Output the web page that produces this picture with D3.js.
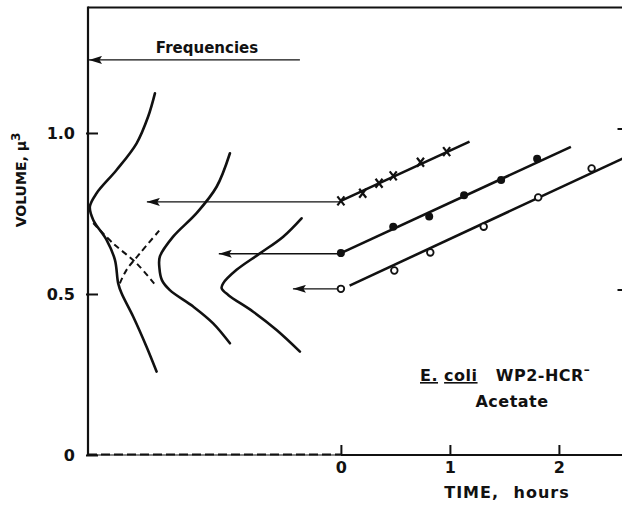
<!DOCTYPE html>
<html>
<head>
<meta charset="utf-8">
<script src="https://cdn.jsdelivr.net/npm/d3@7"></script>
<style>
  body { margin: 0; background: #fff; }
  svg { display: block; }
  text { font-family: "DejaVu Sans", sans-serif; font-weight: bold; fill: #111; }
</style>
</head>
<body>
<div id="container"></div>
<script>
// ---------------- data (time in hours, volume in cubic microns) ----------------
const timeTicks = [0, 1, 2];
const volumeTicks = [0, 0.5, 1.0];

// crosses
const crossTime = [0, 0.2, 0.35, 0.48, 0.73, 0.97];
const crossVol = [0.789, 0.813, 0.844, 0.867, 0.909, 0.942];
// filled dots
const dotTime = [0, 0.48, 0.81, 1.13, 1.47, 1.80];
const dotVol = [0.627, 0.709, 0.741, 0.807, 0.854, 0.920];
// open circles
const openTime = [0, 0.49, 0.82, 1.31, 1.81, 2.30];
const openVol = [0.516, 0.573, 0.629, 0.709, 0.800, 0.890];

// fitted lines [start, end]
const crossFit = [[0, 0.789], [1.18, 0.973]];
const dotFit = [[0, 0.627], [2.11, 0.957]];
const openFit = [[0.08, 0.526], [2.62, 0.926]];

// arrows from the t=0 volume back to the frequency curves
const arrowVol = [0.786, 0.625, 0.516];
const arrowTip = [-1.78, -1.12, -0.44];
const freqArrow = { vol: 1.227, from: -0.376, to: -2.32 };

// frequency curves drawn in the same frame (x in time-axis units)
const freqCurve1 = [[-1.706, 1.123], [-1.768, 1.051], [-1.874, 0.968], [-2.058, 0.885],
  [-2.241, 0.813], [-2.303, 0.771], [-2.272, 0.730], [-2.150, 0.668], [-2.073, 0.606],
  [-2.043, 0.533], [-2.012, 0.502], [-1.906, 0.430], [-1.783, 0.336], [-1.691, 0.259]];
const freqDash1 = [[-2.272, 0.720], [-2.089, 0.657], [-1.874, 0.595], [-1.691, 0.523]];
const freqDash2 = [[-2.028, 0.533], [-1.966, 0.575], [-1.844, 0.626], [-1.661, 0.699]];
const freqCurve2 = [[-1.018, 0.937], [-1.140, 0.833], [-1.324, 0.751], [-1.539, 0.678],
  [-1.661, 0.616], [-1.665, 0.581], [-1.642, 0.543], [-1.569, 0.512], [-1.355, 0.461],
  [-1.172, 0.409], [-1.018, 0.347]];
const freqCurve3 = [[-0.361, 0.735], [-0.529, 0.678], [-0.743, 0.626], [-0.957, 0.575],
  [-1.080, 0.533], [-1.094, 0.518], [-1.034, 0.497], [-0.805, 0.445], [-0.590, 0.388],
  [-0.376, 0.321]];

// ---------------- svg ----------------
const width = 622;
const height = 505;

const svg = d3.select('div#container').append('svg')
  .attr('width', width)
  .attr('height', height);

const x = d3.scaleLinear().domain([-2.32, 2.62]).range([88, 626.5]);
const y = d3.scaleLinear().domain([0, 1.39]).range([455, 7.4]);

// arrow head, tip at the end of the line
svg.append('defs').append('marker')
  .attr('id', 'head')
  .attr('viewBox', '0 0 13 8')
  .attr('refX', 13).attr('refY', 4)
  .attr('markerWidth', 13).attr('markerHeight', 8)
  .attr('markerUnits', 'userSpaceOnUse')
  .attr('orient', 'auto')
  .append('path')
  .attr('d', 'M13,4 L0,0 L2.5,4 L0,8 Z')
  .attr('fill', '#111');

// frame: top and left borders
svg.append('line')
  .attr('x1', x(-2.32)).attr('x2', x(2.62))
  .attr('y1', y(1.39)).attr('y2', y(1.39))
  .attr('stroke', '#111').attr('stroke-width', 2);
svg.append('line')
  .attr('x1', x(-2.32)).attr('x2', x(-2.32))
  .attr('y1', y(1.39) - 1).attr('y2', y(0) + 1)
  .attr('stroke', '#111').attr('stroke-width', 2.2);
svg.append('line')
  .attr('x1', x(2.62)).attr('x2', x(2.62))
  .attr('y1', y(1.39)).attr('y2', y(0))
  .attr('stroke', '#111').attr('stroke-width', 2);

// bottom axis: thin rule with dashes left of 0, solid from 0 on
svg.append('line')
  .attr('x1', x(-2.32)).attr('x2', x(0))
  .attr('y1', y(0)).attr('y2', y(0))
  .attr('stroke', '#111').attr('stroke-width', 1);
svg.append('line')
  .attr('x1', x(-2.32)).attr('x2', x(0))
  .attr('y1', y(0) - 0.5).attr('y2', y(0) - 0.5)
  .attr('stroke', '#111').attr('stroke-width', 2)
  .attr('stroke-dasharray', '9,4');
svg.append('line')
  .attr('x1', x(0)).attr('x2', x(2.62))
  .attr('y1', y(0)).attr('y2', y(0))
  .attr('stroke', '#111').attr('stroke-width', 1.8);

const xAxis = svg.append('g')
  .attr('transform', `translate(0,${y(0)})`)
  .call(d3.axisBottom(x).tickValues(timeTicks).tickSizeInner(-10).tickSizeOuter(0)
    .tickPadding(7).tickFormat(d3.format('d')));
xAxis.select('.domain').remove();
xAxis.selectAll('line').attr('stroke', '#111').attr('stroke-width', 2);
xAxis.selectAll('text').attr('font-size', 16).attr('font-family', '"DejaVu Sans", sans-serif')
  .attr('font-weight', 'bold').attr('fill', '#111');

const yAxis = svg.append('g')
  .attr('transform', `translate(${x(-2.32)},0)`)
  .call(d3.axisLeft(y).tickValues(volumeTicks).tickSizeInner(-10).tickSizeOuter(0)
    .tickPadding(13).tickFormat((d) => d === 0 ? '0' : d3.format('.1f')(d)));
yAxis.select('.domain').remove();
yAxis.selectAll('line').attr('stroke', '#111').attr('stroke-width', 2)
  .attr('x1', -2);
yAxis.selectAll('text').attr('font-size', 16).attr('font-family', '"DejaVu Sans", sans-serif')
  .attr('font-weight', 'bold').attr('fill', '#111');

// right axis ticks (axis itself is just past the picture edge)
svg.selectAll('.rtick')
  .data(volumeTicks.filter((d) => d > 0))
  .enter().append('line')
  .attr('x1', x(2.62)).attr('x2', x(2.62) - 9)
  .attr('y1', (d) => y(d) - 4).attr('y2', (d) => y(d) - 4)
  .attr('stroke', '#111').attr('stroke-width', 2);

// axis titles
svg.append('text')
  .attr('transform', 'translate(26,180) rotate(-90)')
  .attr('text-anchor', 'middle')
  .attr('font-size', 14)
  .text('VOLUME, ')
  .append('tspan').text('\u03bc')
  .append('tspan').attr('dy', -6).attr('font-size', 12).text('3');

svg.append('text')
  .attr('x', 507).attr('y', 498)
  .attr('text-anchor', 'middle')
  .attr('font-size', 16)
  .attr('letter-spacing', 1)
  .attr('word-spacing', 8)
  .text('TIME, hours');

// Frequencies label and arrow
svg.append('text')
  .attr('x', 207).attr('y', 53)
  .attr('text-anchor', 'middle')
  .attr('font-size', 15)
  .text('Frequencies');
svg.append('line')
  .attr('x1', x(freqArrow.from)).attr('x2', x(freqArrow.to) + 1)
  .attr('y1', y(freqArrow.vol)).attr('y2', y(freqArrow.vol))
  .attr('stroke', '#111').attr('stroke-width', 1.4)
  .attr('marker-end', 'url(#head)');

// arrows from t=0
svg.selectAll('.back')
  .data(arrowVol)
  .enter().append('line')
  .attr('x1', x(0)).attr('x2', (d, i) => x(arrowTip[i]))
  .attr('y1', (d) => y(d)).attr('y2', (d) => y(d))
  .attr('stroke', '#111').attr('stroke-width', 1.4)
  .attr('marker-end', 'url(#head)');

// frequency curves
const curve = d3.line()
  .x((d) => x(d[0]))
  .y((d) => y(d[1]))
  .curve(d3.curveCatmullRom.alpha(0.5));

[freqCurve1, freqCurve2, freqCurve3].forEach((c) => {
  svg.append('path')
    .attr('d', curve(c))
    .attr('fill', 'none').attr('stroke', '#111').attr('stroke-width', 2.6)
    .attr('stroke-linecap', 'round');
});
[freqDash1, freqDash2].forEach((c) => {
  svg.append('path')
    .attr('d', curve(c))
    .attr('fill', 'none').attr('stroke', '#111').attr('stroke-width', 2)
    .attr('stroke-dasharray', '6,4');
});

// fitted growth lines
const straight = d3.line().x((d) => x(d[0])).y((d) => y(d[1]));
[crossFit, dotFit, openFit].forEach((f) => {
  svg.append('path')
    .attr('d', straight(f))
    .attr('fill', 'none').attr('stroke', '#111').attr('stroke-width', 2.6);
});

// markers
svg.selectAll('.cross')
  .data(crossTime)
  .enter().append('path')
  .attr('transform', (d, i) => `translate(${x(d)},${y(crossVol[i])})`)
  .attr('d', 'M-3.5,-4.5 L3.5,4.5 M3.5,-4.5 L-3.5,4.5')
  .attr('stroke', '#111').attr('stroke-width', 2.2);

svg.selectAll('.dot')
  .data(dotTime)
  .enter().append('circle')
  .attr('cx', (d) => x(d))
  .attr('cy', (d, i) => y(dotVol[i]))
  .attr('r', 4)
  .attr('fill', '#111');

svg.selectAll('.open')
  .data(openTime)
  .enter().append('circle')
  .attr('cx', (d) => x(d))
  .attr('cy', (d, i) => y(openVol[i]))
  .attr('r', 3.3)
  .attr('fill', '#fff')
  .attr('stroke', '#111').attr('stroke-width', 1.8);

// strain label
const lab = svg.append('text')
  .attr('x', 420).attr('y', 381)
  .attr('font-size', 16)
  .attr('letter-spacing', 0.5);
lab.append('tspan').attr('text-decoration', 'underline').text('E.');
lab.append('tspan').text(' ');
lab.append('tspan').attr('text-decoration', 'underline').text('coli');
lab.append('tspan').attr('xml:space', 'preserve').text('   WP2-HCR');
lab.append('tspan').attr('dy', -7).attr('font-size', 12).text('\u2013');

svg.append('text')
  .attr('x', 512).attr('y', 407)
  .attr('text-anchor', 'middle')
  .attr('font-size', 16)
  .attr('letter-spacing', 0.5)
  .text('Acetate');
</script>
</body>
</html>
